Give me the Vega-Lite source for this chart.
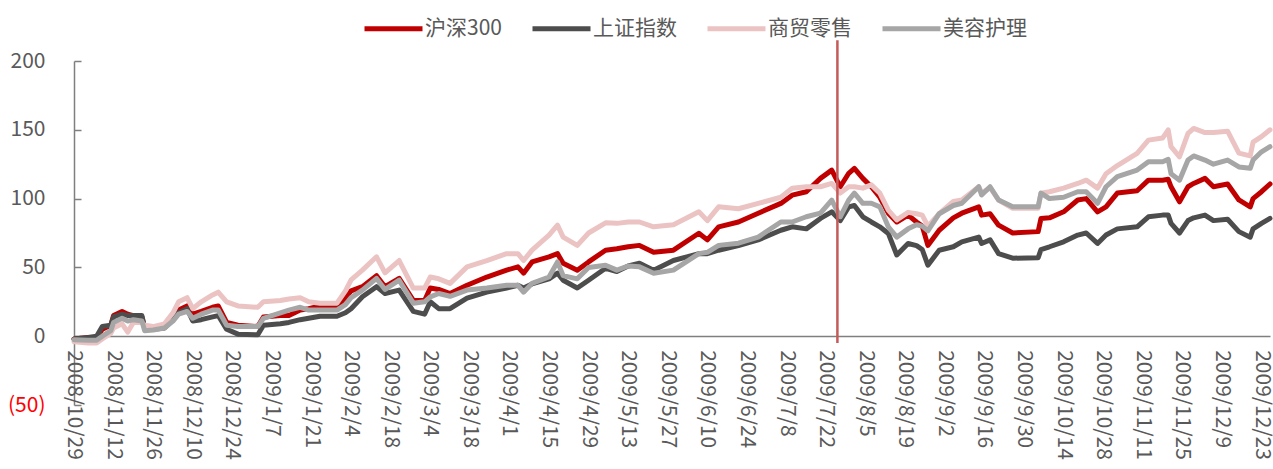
{
  "$schema": "https://vega.github.io/schema/vega-lite/v6.json",
  "width": 1196,
  "height": 344,
  "autosize": {"type": "none"},
  "padding": {"left": 74, "top": 61, "right": 3, "bottom": 64},
  "background": "white",
  "config": {"view": {"stroke": null}, "font": "Noto Sans CJK SC", "axis": {"labelOverlap": false, "labelSeparation": 0}},
  "datasets": {
    "series": [
      {"d":"2008-10-29","a":-2,"b":-2,"c":-4,"e":-2.5},
      {"d":"2008-11-03","a":-1,"b":-1,"c":-5,"e":-3},
      {"d":"2008-11-06","a":-1,"b":0,"c":-5,"e":-3},
      {"d":"2008-11-08","a":5,"b":7,"c":-2,"e":0},
      {"d":"2008-11-11","a":8,"b":8,"c":2,"e":4},
      {"d":"2008-11-12","a":15,"b":14,"c":6,"e":10},
      {"d":"2008-11-15","a":18,"b":16,"c":9,"e":13},
      {"d":"2008-11-17","a":16,"b":15,"c":3,"e":11},
      {"d":"2008-11-19","a":15,"b":15,"c":10,"e":12},
      {"d":"2008-11-22","a":14,"b":15,"c":10,"e":11},
      {"d":"2008-11-23","a":6,"b":6,"c":8,"e":4},
      {"d":"2008-11-26","a":5,"b":5,"c":7,"e":4.5},
      {"d":"2008-11-30","a":7,"b":6,"c":9,"e":6},
      {"d":"2008-12-03","a":13,"b":12,"c":17,"e":11},
      {"d":"2008-12-05","a":19,"b":17,"c":25,"e":16},
      {"d":"2008-12-08","a":22,"b":20,"c":28,"e":18},
      {"d":"2008-12-10","a":16,"b":11,"c":20,"e":13},
      {"d":"2008-12-13","a":18,"b":12,"c":25,"e":16},
      {"d":"2008-12-17","a":21,"b":14,"c":30,"e":19},
      {"d":"2008-12-19","a":22,"b":15,"c":32,"e":19},
      {"d":"2008-12-22","a":10,"b":5,"c":25,"e":8},
      {"d":"2008-12-26","a":8,"b":1.5,"c":22,"e":7},
      {"d":"2009-01-02","a":7,"b":1,"c":21,"e":7},
      {"d":"2009-01-04","a":14,"b":8,"c":25,"e":13},
      {"d":"2009-01-10","a":15,"b":9,"c":26,"e":17},
      {"d":"2009-01-13","a":15,"b":10,"c":27,"e":19},
      {"d":"2009-01-17","a":19,"b":12,"c":28,"e":21},
      {"d":"2009-01-20","a":20,"b":13,"c":25,"e":19},
      {"d":"2009-01-24","a":22,"b":14.5,"c":24,"e":19},
      {"d":"2009-01-30","a":22,"b":14.5,"c":24,"e":19},
      {"d":"2009-02-02","a":28,"b":17,"c":33,"e":23},
      {"d":"2009-02-04","a":33,"b":20,"c":41,"e":28},
      {"d":"2009-02-08","a":36,"b":28.6,"c":48,"e":33.5},
      {"d":"2009-02-13","a":44,"b":36,"c":57.7,"e":42},
      {"d":"2009-02-16","a":36,"b":31,"c":46,"e":34},
      {"d":"2009-02-21","a":42,"b":33.5,"c":55,"e":40.7},
      {"d":"2009-02-26","a":26,"b":18,"c":35,"e":24},
      {"d":"2009-03-02","a":26,"b":16,"c":35,"e":25},
      {"d":"2009-03-04","a":35,"b":25,"c":43,"e":28.6},
      {"d":"2009-03-07","a":34,"b":20,"c":41.7,"e":31},
      {"d":"2009-03-11","a":31,"b":20,"c":38.4,"e":29},
      {"d":"2009-03-17","a":37,"b":27.6,"c":50.4,"e":33.5},
      {"d":"2009-03-24","a":43,"b":32,"c":55,"e":35},
      {"d":"2009-03-31","a":48,"b":35,"c":60,"e":37},
      {"d":"2009-04-04","a":50.4,"b":37,"c":60,"e":37},
      {"d":"2009-04-06","a":45.8,"b":35,"c":55,"e":32},
      {"d":"2009-04-09","a":54,"b":38,"c":62.5,"e":38.4},
      {"d":"2009-04-15","a":57.7,"b":41.7,"c":73.5,"e":43},
      {"d":"2009-04-18","a":60,"b":45.8,"c":80.7,"e":54},
      {"d":"2009-04-20","a":53,"b":40.7,"c":72,"e":44},
      {"d":"2009-04-25","a":48,"b":35,"c":66,"e":41.7},
      {"d":"2009-04-29","a":54,"b":40.7,"c":75,"e":50},
      {"d":"2009-05-05","a":62.5,"b":49.4,"c":82.4,"e":51.6},
      {"d":"2009-05-09","a":63.5,"b":47,"c":82,"e":48},
      {"d":"2009-05-13","a":65,"b":51,"c":83,"e":51},
      {"d":"2009-05-17","a":66,"b":53,"c":83,"e":50.4},
      {"d":"2009-05-22","a":61,"b":48,"c":79.5,"e":45.8},
      {"d":"2009-05-29","a":62.5,"b":55,"c":81,"e":48},
      {"d":"2009-06-07","a":74.8,"b":60,"c":90.4,"e":60},
      {"d":"2009-06-10","a":70,"b":60,"c":84,"e":61},
      {"d":"2009-06-14","a":79.5,"b":62.5,"c":94,"e":66},
      {"d":"2009-06-21","a":83,"b":65.8,"c":92.6,"e":67.6},
      {"d":"2009-06-28","a":89.4,"b":70,"c":96.5,"e":72},
      {"d":"2009-07-06","a":96.5,"b":77,"c":101,"e":83},
      {"d":"2009-07-10","a":102.5,"b":79.5,"c":107.6,"e":83},
      {"d":"2009-07-15","a":105,"b":78,"c":108.6,"e":86.8},
      {"d":"2009-07-20","a":114.7,"b":85.6,"c":108.6,"e":89.4},
      {"d":"2009-07-24","a":120.7,"b":90.4,"c":111,"e":98.9},
      {"d":"2009-07-27","a":108.6,"b":84,"c":104,"e":86.8},
      {"d":"2009-07-30","a":118.4,"b":94,"c":108.6,"e":98.9},
      {"d":"2009-08-01","a":122,"b":95,"c":108.6,"e":104},
      {"d":"2009-08-04","a":114.7,"b":86.8,"c":107.6,"e":96.6},
      {"d":"2009-08-07","a":108.6,"b":83,"c":110,"e":96.6},
      {"d":"2009-08-10","a":101,"b":79.5,"c":104,"e":94},
      {"d":"2009-08-13","a":89.4,"b":74.7,"c":91.6,"e":79.5},
      {"d":"2009-08-16","a":83,"b":59,"c":84.6,"e":72},
      {"d":"2009-08-20","a":88,"b":67.4,"c":90,"e":78},
      {"d":"2009-08-23","a":83,"b":65.8,"c":89,"e":81},
      {"d":"2009-08-25","a":80,"b":63,"c":88,"e":80},
      {"d":"2009-08-27","a":66,"b":51.6,"c":80,"e":76.5},
      {"d":"2009-08-31","a":77,"b":62.5,"c":89,"e":89},
      {"d":"2009-09-05","a":86,"b":65,"c":98,"e":95},
      {"d":"2009-09-08","a":89.4,"b":68.6,"c":99,"e":96.6},
      {"d":"2009-09-14","a":94,"b":72,"c":108.6,"e":108.6},
      {"d":"2009-09-15","a":88,"b":67.4,"c":104,"e":102.6},
      {"d":"2009-09-18","a":89,"b":70,"c":108,"e":108.6},
      {"d":"2009-09-21","a":80.7,"b":60,"c":99,"e":99},
      {"d":"2009-09-26","a":75,"b":56.7,"c":93,"e":94},
      {"d":"2009-10-05","a":76,"b":57,"c":93,"e":94},
      {"d":"2009-10-06","a":85.6,"b":63,"c":104,"e":104},
      {"d":"2009-10-09","a":86,"b":65,"c":105,"e":100},
      {"d":"2009-10-14","a":90.4,"b":68.6,"c":107.6,"e":101},
      {"d":"2009-10-19","a":99,"b":73.5,"c":111,"e":105},
      {"d":"2009-10-22","a":100,"b":75,"c":113.4,"e":105},
      {"d":"2009-10-26","a":90.4,"b":67.4,"c":107.6,"e":96.6},
      {"d":"2009-10-29","a":94,"b":73.5,"c":118,"e":108.6},
      {"d":"2009-11-02","a":104,"b":78,"c":124,"e":116},
      {"d":"2009-11-09","a":105.7,"b":79.5,"c":132.8,"e":120.7},
      {"d":"2009-11-13","a":113.4,"b":86.8,"c":142.5,"e":126.8},
      {"d":"2009-11-18","a":113.4,"b":88,"c":144,"e":126.8},
      {"d":"2009-11-20","a":114,"b":88,"c":150,"e":128.5},
      {"d":"2009-11-21","a":108.6,"b":82,"c":137.7,"e":118},
      {"d":"2009-11-24","a":97.7,"b":75,"c":130.4,"e":113.4},
      {"d":"2009-11-27","a":108.6,"b":84,"c":147.4,"e":128},
      {"d":"2009-11-29","a":111,"b":86,"c":151,"e":131},
      {"d":"2009-12-03","a":114.7,"b":88,"c":148,"e":128},
      {"d":"2009-12-06","a":108.6,"b":84,"c":148,"e":125},
      {"d":"2009-12-11","a":110.6,"b":85,"c":149,"e":128},
      {"d":"2009-12-15","a":99,"b":76,"c":133,"e":123},
      {"d":"2009-12-19","a":94,"b":72,"c":131,"e":122},
      {"d":"2009-12-20","a":100,"b":78,"c":141,"e":128},
      {"d":"2009-12-23","a":105,"b":82,"c":145,"e":134},
      {"d":"2009-12-26","a":110.6,"b":85.6,"c":150,"e":137.7}
    ],
    "marker": [{"d": "2009-07-26", "top": 215, "bottom": -5}],
    "ticks": [
      {"t":"2008-10-29"},{"t":"2008-11-12"},{"t":"2008-11-26"},{"t":"2008-12-10"},{"t":"2008-12-24"},
      {"t":"2009-01-07"},{"t":"2009-01-21"},{"t":"2009-02-04"},{"t":"2009-02-18"},{"t":"2009-03-04"},
      {"t":"2009-03-18"},{"t":"2009-04-01"},{"t":"2009-04-15"},{"t":"2009-04-29"},{"t":"2009-05-13"},
      {"t":"2009-05-27"},{"t":"2009-06-10"},{"t":"2009-06-24"},{"t":"2009-07-08"},{"t":"2009-07-22"},
      {"t":"2009-08-05"},{"t":"2009-08-19"},{"t":"2009-09-02"},{"t":"2009-09-16"},{"t":"2009-09-30"},
      {"t":"2009-10-14"},{"t":"2009-10-28"},{"t":"2009-11-11"},{"t":"2009-11-25"},{"t":"2009-12-09"},
      {"t":"2009-12-23"}
    ]
  },
  "layer": [
    {
      "data": {"name": "series"},
      "transform": [{"fold": ["a", "b", "c", "e"], "as": ["s", "v"]}],
      "mark": {"type": "line", "strokeWidth": 5, "strokeJoin": "round", "strokeCap": "round"},
      "encoding": {
        "x": {
          "field": "d", "type": "temporal",
          "scale": {"type": "utc", "domain": [{"year": 2008, "month": 10, "date": 29, "utc": true}, {"year": 2009, "month": 12, "date": 26, "utc": true}]},
          "axis": {
            "title": null, "labels": false, "ticks": false, "grid": false, "offset": -69,
            "domainColor": "#7F7F7F", "domainWidth": 1.5, "values": []
          }
        },
        "y": {
          "field": "v", "type": "quantitative",
          "scale": {"domain": [-50, 200], "nice": false, "zero": false},
          "axis": {
            "title": null, "values": [-50, 0, 50, 100, 150, 200], "grid": false,
            "labelFontSize": 21, "labelPadding": 36, "tickSize": -7, "tickColor": "#7F7F7F", "tickWidth": 1.5,
            "domainColor": "#7F7F7F", "domainWidth": 1.5,
            "labelExpr": "datum.value < 0 ? '(' + abs(datum.value) + ')' : datum.label",
            "labelColor": {"condition": {"test": "datum.value < 0", "value": "#FF0000"}, "value": "#595959"}
          }
        },
        "color": {
          "field": "s", "type": "nominal",
          "scale": {"domain": ["a", "b", "c", "e"], "range": ["#C00000", "#4D4D4D", "#EBC3C3", "#A6A6A6"]},
          "legend": {
            "title": null, "orient": "none", "legendX": 288, "legendY": -64, "direction": "horizontal",
            "symbolType": "stroke", "symbolStrokeWidth": 5, "symbolSize": 3364,
            "labelFontSize": 21, "labelColor": "#595959", "labelOffset": 0, "columnPadding": 20, "padding": 0,
            "labelExpr": "datum.label == 'a' ? '沪深300' : datum.label == 'b' ? '上证指数' : datum.label == 'c' ? '商贸零售' : '美容护理'"
          }
        }
      }
    },
    {
      "data": {"name": "marker"},
      "mark": {"type": "rule", "color": "#C55A5A", "strokeWidth": 2.5},
      "encoding": {
        "x": {"field": "d", "type": "temporal"},
        "y": {"field": "top", "type": "quantitative"},
        "y2": {"field": "bottom"}
      }
    },
    {
      "data": {"name": "ticks"},
      "mark": {"type": "text", "angle": 90, "align": "left", "baseline": "middle", "fontSize": 21, "color": "#595959", "dx": 14},
      "encoding": {
        "x": {"field": "t", "type": "temporal"},
        "y": {"datum": 0},
        "text": {"field": "t", "type": "temporal", "format": "%Y/%-m/%-d"}
      }
    }
  ]
}
